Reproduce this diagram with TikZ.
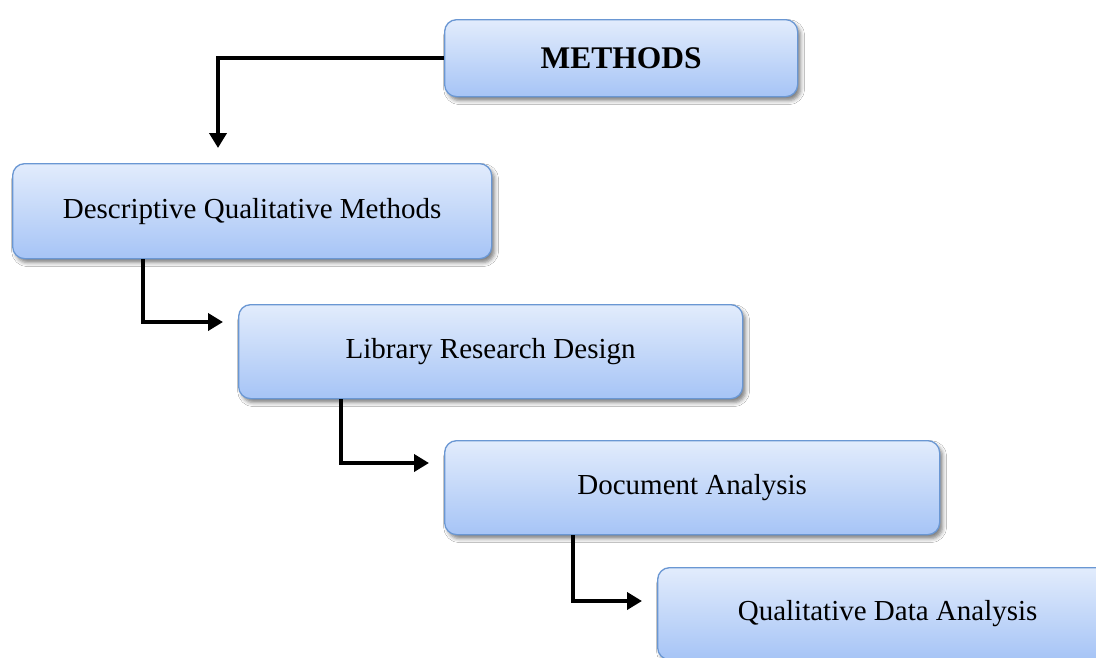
\documentclass[tikz,border=0pt]{standalone}
\usepackage{fontspec}
\setmainfont{Liberation Serif}
\usetikzlibrary{arrows.meta,shadows.blur}
\definecolor{boxtop}{HTML}{E2ECFC}
\definecolor{boxbot}{HTML}{A6C4F6}
\definecolor{boxline}{HTML}{6A97D3}
\tikzset{
  x=1pt,y=-1pt,
  stage/.style={draw=boxline, line width=1.3pt, rounded corners=12pt,
    top color=boxtop, bottom color=boxbot, anchor=north west,
    blur shadow={shadow xshift=3pt,shadow yshift=-4pt,shadow blur radius=4pt,shadow opacity=50},
    font=\fontsize{29}{33}\selectfont, inner sep=0pt},
  flow/.style={line width=4.5pt, -{Triangle[length=15pt,width=17pt]}, shorten >=15pt}
}
\begin{document}
\begin{tikzpicture}
\clip (0,0) rectangle (1096,657);
\fill[white] (0,0) rectangle (1096,657);
% stages
\node[stage, minimum width=353pt, minimum height=77pt, font=\bfseries\fontsize{31.5}{34}\selectfont] (m) at (444,19) {METHODS};
\node[stage, minimum width=479pt, minimum height=95pt] (d) at (12,163) {Descriptive Qualitative Methods};
\node[stage, minimum width=504pt, minimum height=94pt] (l) at (238,304) {Library Research Design};
\node[stage, minimum width=495pt, minimum height=94pt] (a) at (444,440) {Document Analysis};
\node[stage, minimum width=460pt, minimum height=92pt] (q) at (657,567) {Qualitative Data Analysis};
% bend points
\coordinate (c0) at (218,163);
\coordinate (c1) at (143,322);
\coordinate (c2) at (341,463);
\coordinate (c3) at (573,601);
% connectors
\draw[flow] (m.west) -| (c0);
\draw[flow] (c1 |- d.south) |- (c1 -| l.west);
\draw[flow] (c2 |- l.south) |- (c2 -| a.west);
\draw[flow] (c3 |- a.south) |- (c3 -| q.west);
\end{tikzpicture}
\end{document}
